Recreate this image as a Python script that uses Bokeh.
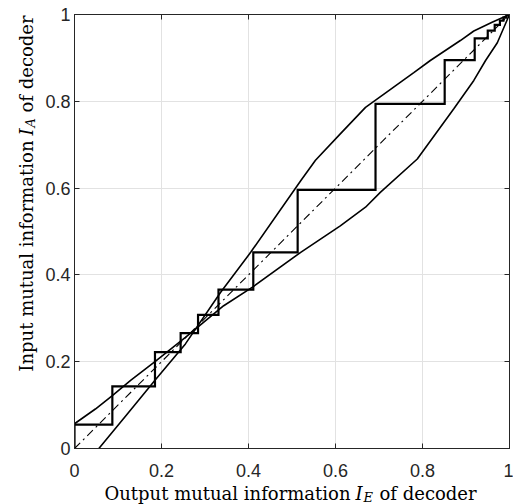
import math
from bokeh.plotting import figure
from bokeh.models import Label, LinearAxis, FixedTicker, Range1d
from bokeh.layouts import row, column
from bokeh.embed import file_html
from bokeh.resources import INLINE

# ---- data ----
ticks = [0, 0.2, 0.4, 0.6, 0.8, 1]
tick_labels = ["0", "0.2", "0.4", "0.6", "0.8", "1"]

diag_x = [0.0, 1.0]
diag_y = [0.0, 1.0]

curve_a_x = [0.0, 0.048, 0.087, 0.129, 0.185, 0.255, 0.343, 0.411, 0.52, 0.611, 0.669, 0.703, 0.788, 0.872, 0.918, 0.945, 0.972, 1.0]
curve_a_y = [0.057, 0.091, 0.122, 0.157, 0.2, 0.256, 0.329, 0.373, 0.452, 0.513, 0.556, 0.59, 0.667, 0.783, 0.848, 0.894, 0.935, 1.0]

curve_b_x = [0.056, 0.12, 0.185, 0.255, 0.336, 0.405, 0.52, 0.554, 0.611, 0.669, 0.78, 0.818, 0.887, 0.918, 0.96, 1.0]
curve_b_y = [0.0, 0.078, 0.157, 0.241, 0.36, 0.452, 0.617, 0.664, 0.725, 0.786, 0.866, 0.894, 0.94, 0.962, 0.982, 1.0]

stair_x = [0.0, 0.087, 0.185, 0.244, 0.284, 0.331, 0.411, 0.513, 0.692, 0.851, 0.92, 0.95, 0.966, 0.978, 0.986, 0.993]
stair_y = [0.055, 0.143, 0.222, 0.266, 0.308, 0.366, 0.452, 0.596, 0.794, 0.895, 0.945, 0.963, 0.976, 0.986, 0.993, 1.0]

x_title = ["Output mutual information", "I", "E", "of decoder"]
y_title = ["Input mutual information", "I", "A", "of decoder"]

# staircase path: vertical then horizontal steps
path_x = [stair_x[0]]
path_y = [0.0]
for i in range(len(stair_x)):
    path_x.append(stair_x[i]); path_y.append(stair_y[i])
    if i + 1 < len(stair_x):
        path_x.append(stair_x[i + 1]); path_y.append(stair_y[i])

AX = "#262626"
W, H = 513, 504
LEFT_W = 38      # width of strip holding the y title
MAIN_H = 484     # height of the top row; below it a full-width strip for the x title

p = figure(width=W - LEFT_W, height=MAIN_H, x_range=Range1d(0, 1), y_range=Range1d(0, 1),
           output_backend="svg", toolbar_location=None,
           min_border_left=74 - LEFT_W, min_border_right=4, min_border_top=14,
           min_border_bottom=MAIN_H - 448)
p.background_fill_color = "white"
p.border_fill_color = "white"
p.outline_line_color = AX
p.outline_line_width = 1

overrides = {t: l for t, l in zip(ticks, tick_labels)}
for ax in (p.xaxis[0], p.yaxis[0]):
    ax.ticker = FixedTicker(ticks=ticks)
    ax.major_label_overrides = overrides
    ax.major_label_text_font = "Liberation Sans"
    ax.major_label_text_font_size = "18px"
    ax.major_label_text_color = AX
    ax.major_tick_in = 5
    ax.major_tick_out = 0
    ax.minor_tick_line_color = None
    ax.axis_line_color = AX
    ax.major_tick_line_color = AX
p.xaxis.major_label_standoff = 15
p.yaxis.major_label_standoff = 4

for loc in ("right", "above"):
    a = LinearAxis(ticker=FixedTicker(ticks=ticks), major_label_text_font_size="0px",
                   major_label_standoff=0, major_tick_in=5, major_tick_out=0,
                   minor_tick_line_color=None, axis_line_color=AX, major_tick_line_color=AX)
    a.major_label_overrides = {t: "" for t in ticks}
    p.add_layout(a, loc)

p.xgrid.grid_line_color = "#e2e2e2"
p.ygrid.grid_line_color = "#e2e2e2"

p.line(diag_x, diag_y, line_color="black", line_width=1.1, line_dash="8 4 2 4")
p.line(curve_a_x, curve_a_y, line_color="black", line_width=1.6)
p.line(curve_b_x, curve_b_y, line_color="black", line_width=1.6)
p.line(path_x, path_y, line_color="black", line_width=2.2, line_join="miter")


def strip(w, h):
    f = figure(width=w, height=h, x_range=Range1d(0, 1), y_range=Range1d(0, 1),
               output_backend="svg", toolbar_location=None,
               x_axis_location=None, y_axis_location=None, min_border=0)
    f.outline_line_color = None
    f.grid.visible = False
    f.background_fill_color = "white"
    f.border_fill_color = "white"
    return f


SER = "DejaVu Serif"
def lab(fig, ox, oy, text, X, Y, align, size="18px", style="normal", angle=0.0):
    # X, Y: page pixel positions; (ox, oy): page position of the strip's bottom-left
    fig.add_layout(Label(x=X - ox, y=oy - Y, x_units="screen", y_units="screen", text=text,
                         text_font=SER, text_font_size=size, text_font_style=style,
                         text_color="black", text_align=align, text_baseline="alphabetic",
                         angle=angle))

# y title strip (page x 0..LEFT_W, y 0..MAIN_H), rotated, reading upward
ly = strip(LEFT_W, MAIN_H)
A90 = math.pi / 2
lab(ly, 0, MAIN_H, y_title[0], 26, 176, "right", angle=A90)
lab(ly, 0, MAIN_H, y_title[1], 26, 171, "left", style="italic", angle=A90)
lab(ly, 0, MAIN_H, y_title[2], 30, 163, "left", size="13px", style="italic", angle=A90)
lab(ly, 0, MAIN_H, y_title[3], 26, 148, "left", angle=A90)

# x title strip (full page width, below the top row)
bx = strip(W, H - MAIN_H)
lab(bx, 0, H, x_title[0], 350, 493, "right")
lab(bx, 0, H, x_title[1], 355, 493, "left", style="italic")
lab(bx, 0, H, x_title[2], 363, 497, "left", size="13px", style="italic")
lab(bx, 0, H, x_title[3], 379, 493, "left")

layout = column(row(ly, p, spacing=0), bx, spacing=0)
open("out.html", "w").write(file_html(layout, INLINE))
